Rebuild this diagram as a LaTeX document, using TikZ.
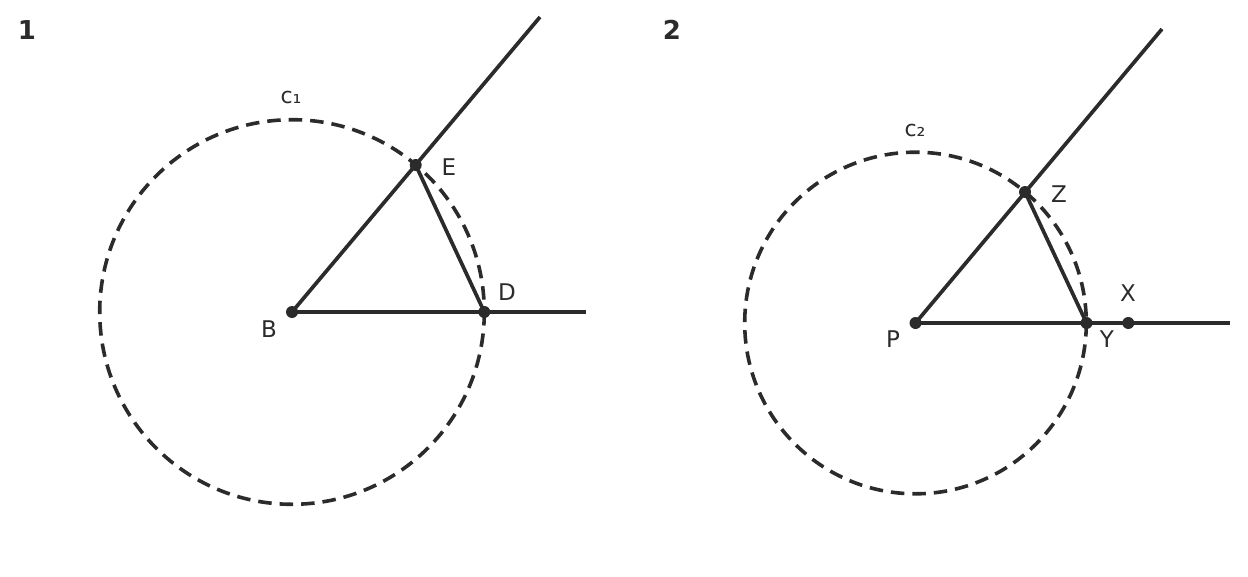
\documentclass[tikz,border=0pt]{standalone}
\usepackage{fontspec}
\setmainfont{DejaVu Sans}
\begin{document}
\begin{tikzpicture}[x=1pt,y=-1pt,
  ink/.style={draw=inkc,line width=3.7pt},
  circ/.style={draw=inkc,line width=3.6pt,dash pattern=on 13.5pt off 8pt},
  dot/.style={circle,fill=inkc,inner sep=0pt,minimum size=12pt},
  lab/.style={text=inkc,font=\fontsize{23}{27}\selectfont,inner sep=0pt},
  clab/.style={text=inkc,font=\fontsize{22}{26}\selectfont,inner sep=0pt},
  num/.style={text=inkc,font=\fontsize{26}{30}\selectfont\bfseries,inner sep=0pt}]
\definecolor{inkc}{HTML}{2B2B2B}
\useasboundingbox (0,0) rectangle (1248,576);
% panel 1
\coordinate (B) at (292,312);
\coordinate (E) at (415.7,165);
\coordinate (D) at (484.3,312);
\coordinate (R1) at (540,17);
\coordinate (H1) at (586,312);
\draw[circ] (B) circle[radius=192.3];
\draw[ink] (B) -- (R1);
\draw[ink] (B) -- (H1);
\draw[ink] (E) -- (D);
\node[dot] (dB) at (B) {};
\node[dot] (dE) at (E) {};
\node[dot] (dD) at (D) {};
\node[lab] (lE) at (449,167) {E};
\node[lab] (lD) at (507,292) {D};
\node[lab] (lB) at (269,329) {B};
\node[clab] (lc1) at (291,97) {c₁};
\node[num] (n1) at (27,30) {1};
% panel 2
\coordinate (P) at (915.5,323);
\coordinate (Z) at (1025,192);
\coordinate (Y) at (1086.5,323);
\coordinate (X) at (1128.3,323);
\coordinate (R2) at (1162,29);
\coordinate (H2) at (1230,323);
\draw[circ] (P) circle[radius=170.8];
\draw[ink] (P) -- (R2);
\draw[ink] (P) -- (H2);
\draw[ink] (Z) -- (Y);
\node[dot] (dP) at (P) {};
\node[dot] (dZ) at (Z) {};
\node[dot] (dY) at (Y) {};
\node[dot] (dX) at (X) {};
\node[lab] (lZ) at (1059,194) {Z};
\node[lab] (lX) at (1128,293) {X};
\node[lab] (lY) at (1107,339) {Y};
\node[lab] (lP) at (893,339) {P};
\node[clab] (lc2) at (915,130) {c₂};
\node[num] (n2) at (672,30) {2};
\end{tikzpicture}
\end{document}
